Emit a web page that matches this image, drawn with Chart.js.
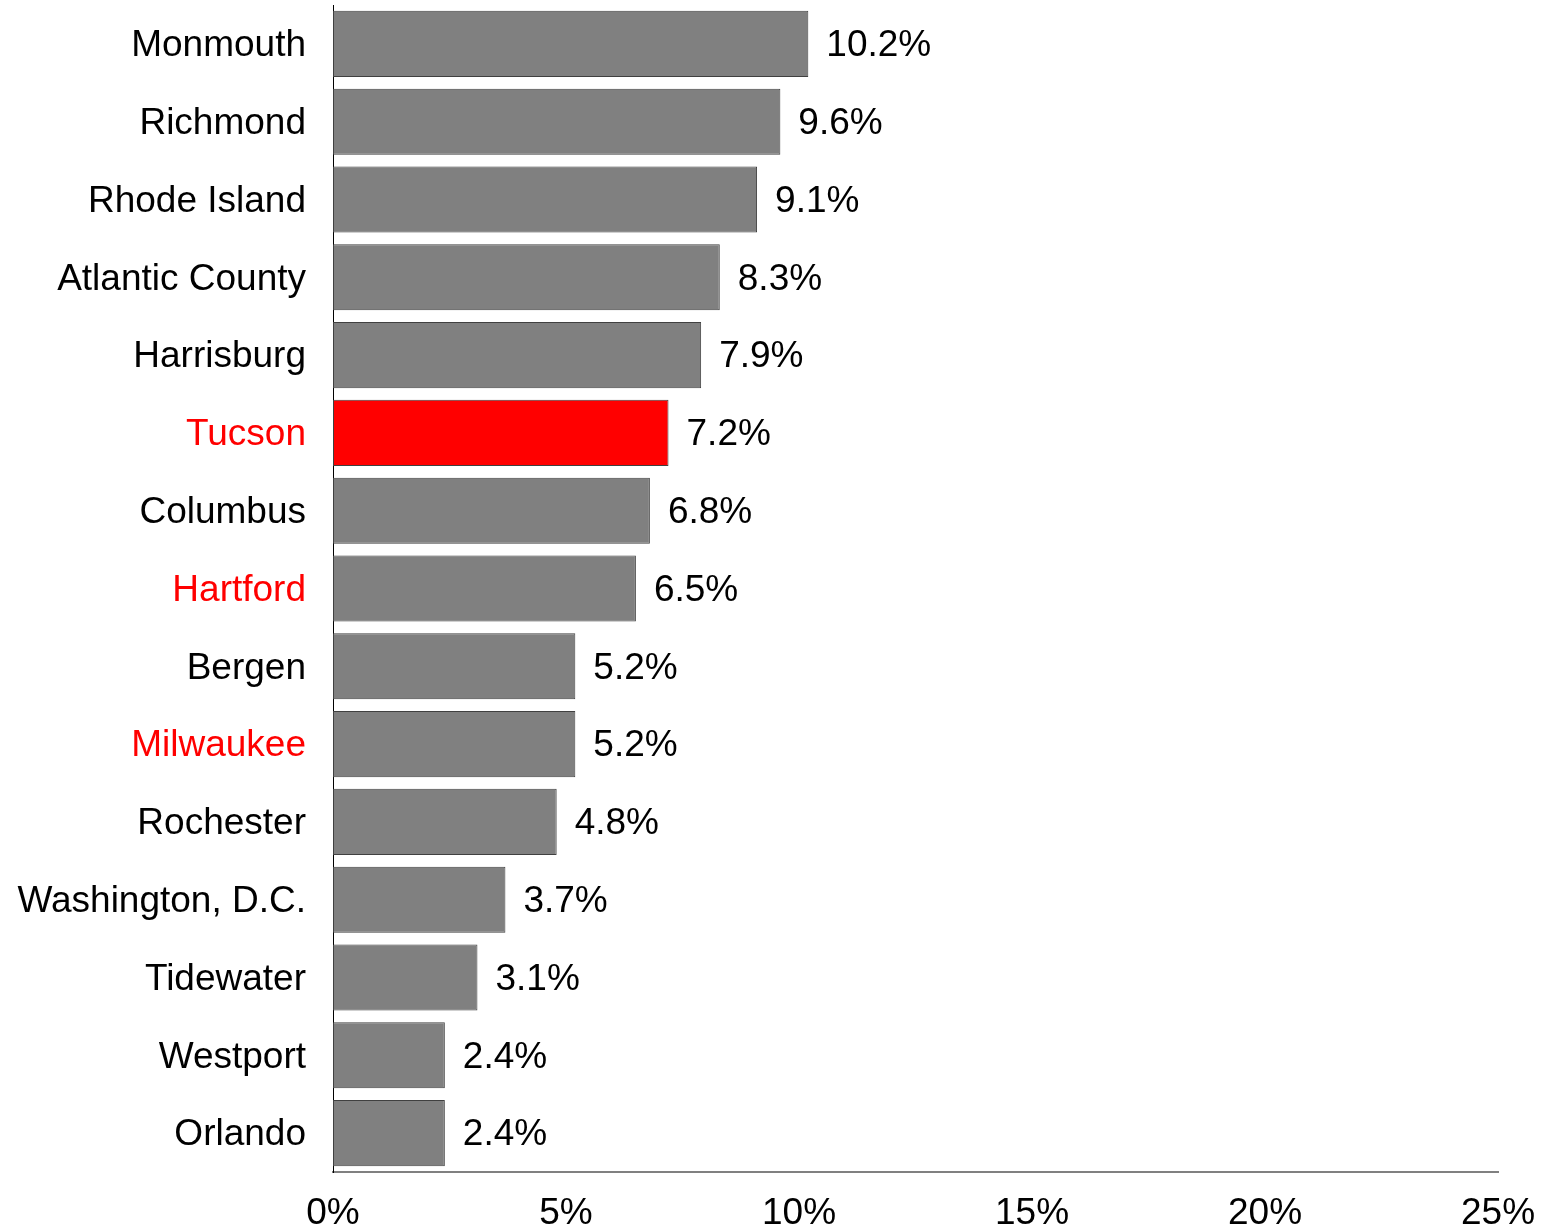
<!DOCTYPE html>
<html>
<head>
<meta charset="utf-8">
<script src="https://cdn.jsdelivr.net/npm/chart.js@4.4.1/dist/chart.umd.min.js"></script>
<style>
html,body{margin:0;padding:0;background:#fff;}
#wrap{width:1545px;height:1230px;}
</style>
</head>
<body>
<div id="wrap"><canvas id="c" width="1545" height="1230"></canvas></div>
<script>
const categories = ["Monmouth","Richmond","Rhode Island","Atlantic County","Harrisburg","Tucson","Columbus","Hartford","Bergen","Milwaukee","Rochester","Washington, D.C.","Tidewater","Westport","Orlando"];
const values = [10.2, 9.6, 9.1, 8.3, 7.9, 7.2, 6.8, 6.5, 5.2, 5.2, 4.8, 3.7, 3.1, 2.4, 2.4];
const highlightBar = ["Tucson"];
const highlightLabel = ["Tucson","Hartford","Milwaukee"];
const xTicks = [0, 5, 10, 15, 20, 25];

const FONT = "'Liberation Sans', Arial, sans-serif";

const barColors = categories.map(c => highlightBar.includes(c) ? '#ff0000' : '#808080');
const labelColors = categories.map(c => highlightLabel.includes(c) ? '#ff0000' : '#000000');

function zeroPad(scale) {
  scale.paddingTop = 0; scale.paddingBottom = 0;
  scale.paddingLeft = 0; scale.paddingRight = 0;
}

const dataLabels = {
  id: 'dataLabels',
  afterDatasetsDraw(chart) {
    const ctx = chart.ctx;
    const meta = chart.getDatasetMeta(0);
    ctx.save();
    ctx.font = "37px " + FONT;
    ctx.fillStyle = '#000';
    ctx.textAlign = 'left';
    ctx.textBaseline = 'middle';
    meta.data.forEach((el, i) => {
      ctx.fillText(values[i].toFixed(1) + '%', el.x + 18, el.y + 2);
    });
    ctx.restore();
  }
};

new Chart(document.getElementById('c'), {
  type: 'bar',
  data: {
    labels: categories,
    datasets: [{
      data: values,
      backgroundColor: barColors,
      borderColor: '#404040',
      borderWidth: 1,
      borderSkipped: false,
      categoryPercentage: 0.85,
      barPercentage: 1.0
    }]
  },
  options: {
    indexAxis: 'y',
    responsive: false,
    animation: false,
    devicePixelRatio: 1,
    layout: { autoPadding: false, padding: { top: 5, right: 47, bottom: 0, left: 0 } },
    plugins: { legend: { display: false }, tooltip: { enabled: false } },
    scales: {
      x: {
        min: 0, max: 25,
        afterBuildTicks(scale) { scale.ticks = xTicks.map(v => ({ value: v })); },
        afterFit(scale) { scale.height = 58; zeroPad(scale); },
        grid: { display: false, drawTicks: false },
        border: { display: true, color: '#808080', width: 2 },
        ticks: {
          padding: 20,
          color: '#000',
          font: { family: FONT, size: 37 },
          callback: v => v + '%',
          maxRotation: 0
        }
      },
      y: {
        afterFit(scale) { scale.width = 333; zeroPad(scale); },
        grid: { display: false, drawTicks: false },
        border: { display: true, color: '#000', width: 1 },
        ticks: {
          padding: 27,
          labelOffset: 2,
          color: ctx => labelColors[ctx.index],
          font: { family: FONT, size: 37 },
          autoSkip: false
        }
      }
    }
  },
  plugins: [dataLabels]
});
</script>
</body>
</html>
